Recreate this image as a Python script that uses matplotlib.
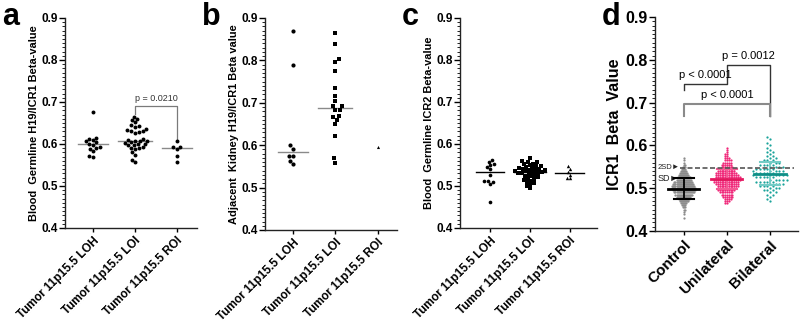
import numpy as np
import matplotlib
matplotlib.use("Agg")
import matplotlib.pyplot as plt
from matplotlib.ticker import MultipleLocator

plt.rcParams['font.family'] = ['Liberation Sans', 'DejaVu Sans']

# ---------------- data ----------------
cats_abc = ["Tumor 11p15.5 LOH", "Tumor 11p15.5 LOI", "Tumor 11p15.5 ROI"]

a_loh = [0.676, 0.615, 0.613, 0.610, 0.606, 0.604, 0.600, 0.598, 0.592, 0.590, 0.589, 0.583, 0.572, 0.569]
a_loi = [0.665, 0.660, 0.657, 0.652, 0.645, 0.643, 0.641, 0.635, 0.633, 0.632, 0.630, 0.628, 0.627,
         0.612, 0.610, 0.608, 0.607, 0.606, 0.605, 0.603, 0.600, 0.599, 0.598, 0.597, 0.592, 0.591,
         0.590, 0.589, 0.582, 0.575, 0.562, 0.557]
a_roi = [0.606, 0.594, 0.592, 0.588, 0.571, 0.557]
a_medians = [0.599, 0.607, 0.590]

b_loh = [0.870, 0.788, 0.600, 0.592, 0.575, 0.575, 0.563, 0.555]
b_loi = [0.864, 0.839, 0.804, 0.797, 0.776, 0.734, 0.717, 0.705, 0.692, 0.692, 0.683, 0.683,
         0.669, 0.666, 0.660, 0.650, 0.621, 0.569, 0.559]
b_roi = [0.596]
b_medians = [0.585, 0.687, None]

c_loh = [0.562, 0.558, 0.553, 0.550, 0.546, 0.541, 0.527, 0.512, 0.511, 0.509, 0.504, 0.463]
c_loi = [0.566, 0.560, 0.558, 0.556, 0.553, 0.552, 0.550, 0.548, 0.547, 0.545, 0.544, 0.542, 0.541,
         0.540, 0.539, 0.538, 0.537, 0.536, 0.535, 0.534, 0.533, 0.532, 0.531, 0.530, 0.529, 0.527,
         0.525, 0.523, 0.521, 0.519, 0.517, 0.515, 0.513, 0.510, 0.507, 0.504, 0.500, 0.495]
c_roi = [0.548, 0.541, 0.534, 0.527, 0.520, 0.518]
c_medians = [0.534, 0.534, 0.530]

cats_d = ["Control", "Unilateral", "Bilateral"]
ctrl_bins = [0.430, 0.435, 0.440, 0.445, 0.450, 0.455, 0.460, 0.465, 0.470, 0.475, 0.480, 0.485,
             0.490, 0.495, 0.500, 0.505, 0.510, 0.515, 0.520, 0.525, 0.530, 0.535, 0.540, 0.545,
             0.550, 0.555, 0.560, 0.565, 0.570]
ctrl_counts = [1, 0, 1, 1, 2, 3, 4, 6, 9, 11, 14, 17, 20, 22, 23, 22, 20, 18, 15, 13, 10, 8, 6, 4,
               3, 2, 1, 1, 1]
uni_bins = [0.465, 0.470, 0.475, 0.480, 0.485, 0.490, 0.495, 0.500, 0.505, 0.510, 0.515, 0.520,
            0.525, 0.530, 0.535, 0.540, 0.545, 0.550, 0.555, 0.560, 0.565, 0.570, 0.575, 0.580,
            0.585, 0.590, 0.595]
uni_counts = [2, 3, 4, 6, 7, 8, 10, 11, 12, 13, 14, 15, 14, 13, 12, 10, 9, 7, 6, 5, 4, 3, 2, 2, 1, 1, 1]
bil_bins = [0.470, 0.475, 0.480, 0.485, 0.490, 0.495, 0.500, 0.505, 0.510, 0.515, 0.520, 0.525,
            0.530, 0.535, 0.540, 0.545, 0.550, 0.555, 0.560, 0.565, 0.570, 0.575, 0.580, 0.585,
            0.590, 0.595, 0.600, 0.605, 0.610, 0.615, 0.620]
bil_counts = [1, 1, 1, 2, 2, 3, 3, 4, 4, 5, 5, 5, 6, 5, 5, 5, 4, 4, 3, 3, 2, 2, 1, 2, 1, 1, 1, 1, 0, 1, 1]
d_means = [0.499, 0.521, 0.534]
d_sds = [0.025, 0.024, 0.027]
two_sd = 0.548

# ---------------- helpers ----------------
W, H = 800, 324
fig = plt.figure(figsize=(W / 100, H / 100), dpi=100)


def swarm(vals, d_px, ypx):
    ys = np.asarray(vals, float) * ypx
    order = np.argsort(ys, kind="stable")
    placed = []
    offs = np.zeros(len(ys))
    for k, i in enumerate(order):
        y = ys[i]
        neigh = [(xj, yj) for xj, yj in placed if abs(yj - y) < d_px]
        cands = [0.0]
        for xj, yj in neigh:
            dx = np.sqrt(max(d_px ** 2 - (y - yj) ** 2, 0))
            cands += [xj + dx, xj - dx]
        sign = 1 if k % 2 == 0 else -1
        cands.sort(key=lambda c: (round(abs(c), 6), -sign * c))
        chosen = 0.0
        for c in cands:
            if all((c - xj) ** 2 + (y - yj) ** 2 >= d_px ** 2 - 1e-6 for xj, yj in neigh):
                chosen = c
                break
        placed.append((chosen, y))
        offs[i] = chosen
    return offs


def make_axes(rect_px, xlim, labelsize, ticksize):
    l, t, r, b = rect_px
    ax = fig.add_axes([l / W, 1 - b / H, (r - l) / W, (b - t) / H])
    ax.set_xlim(*xlim)
    ax.set_ylim(0.4, 0.9)
    for s in ["top", "right"]:
        ax.spines[s].set_visible(False)
    for s in ["left", "bottom"]:
        ax.spines[s].set_color("#222222")
        ax.spines[s].set_linewidth(1.0)
    ax.yaxis.set_major_locator(MultipleLocator(0.1))
    ax.yaxis.set_minor_locator(MultipleLocator(0.01))
    ax.tick_params(axis="y", which="major", length=4, width=1, labelsize=ticksize, pad=1)
    ax.tick_params(axis="y", which="minor", length=2, width=0.6)
    ax.tick_params(axis="x", length=3, width=1, labelsize=labelsize, pad=2)
    ax.set_yticks([0.4, 0.5, 0.6, 0.7, 0.8, 0.9])
    ax.set_yticklabels(["0.4", "0.5", "0.6", "0.7", "0.8", "0.9"], fontweight="bold")
    px_per_x = (r - l) / (xlim[1] - xlim[0])
    px_per_y = (b - t) / 0.5
    return ax, px_per_x, px_per_y


def panel_abc(rect_px, xlim, groups, markers, msizes, dpx, medians, med_color, ylabel, letter, letter_x):
    ax, ppx, ppy = make_axes(rect_px, xlim, 8.5, 8.5)
    for i, (vals, m, ms, d) in enumerate(zip(groups, markers, msizes, dpx)):
        offs = swarm(vals, d, ppy) / ppx
        ax.scatter(i + offs, vals, marker=m, s=ms, color="black", linewidths=0, zorder=3)
    for i, med in enumerate(medians):
        if med is None:
            continue
        half = 0.36 if i != 1 else 0.4
        ax.plot([i - half, i + half], [med, med], color=med_color, lw=1.0, zorder=2)
    ax.set_xticks(range(3))
    ax.set_xticklabels(cats_abc, rotation=45, ha="right", rotation_mode="anchor", fontweight="bold")
    ax.set_ylabel(ylabel, fontsize=7.9, fontweight="bold", labelpad=2)
    fig.text(letter_x / W, 1 - 2 / H, letter, fontsize=22, fontweight="bold", va="top", ha="left")
    return ax


# ---------------- panel a ----------------
ax_a = panel_abc((65, 18, 197, 228), (-0.67, 2.48), [a_loh, a_loi, a_roi], ["o", "o", "o"],
                 [8, 8, 8], [4.0, 4.0, 4.0], a_medians, "#8a8a8a",
                 "Blood  Germline H19/ICR1 Beta-value", "a", 2)
ax_a.plot([1, 1, 2, 2], [0.672, 0.690, 0.690, 0.612], color="#7a7a7a", lw=0.9)
ax_a.text(1.5, 0.697, "p = 0.0210", ha="center", va="bottom", fontsize=6.5, color="#333333")

# ---------------- panel b ----------------
ax_b = panel_abc((265, 18, 397, 230), (-0.66, 2.45), [b_loh, b_loi, b_roi], ["o", "s", "^"],
                 [9, 10, 5], [4.5, 4.5, 4.0], b_medians, "#8a8a8a",
                 "Adjacent  Kidney H19/ICR1 Beta value", "b", 202)

# ---------------- panel c ----------------
ax_c = panel_abc((460, 18, 597, 228), (-0.75, 2.68), [c_loh, c_loi, c_roi], ["o", "s", "^"],
                 [7, 9, 6], [3.6, 3.8, 3.4], c_medians, "black",
                 "Blood  Germline ICR2 Beta-value", "c", 402)

# ---------------- panel d ----------------
ax_d, ppx_d, ppy_d = make_axes((655, 17, 798, 231), (-0.67, 2.65), 11, 11.5)
d_groups = [(ctrl_bins, ctrl_counts), (uni_bins, uni_counts), (bil_bins, bil_counts)]
d_colors = ["#8c8c8c", "#f0287a", "#1aa39a"]
d_spacing = [1.05, 1.8, 3.6]
for i, ((bins, counts), col, sp) in enumerate(zip(d_groups, d_colors, d_spacing)):
    vals = np.repeat(bins, counts)
    offs = swarm(vals, sp, ppy_d) / ppx_d
    ax_d.scatter(i + offs, vals, s=2.6, color=col, linewidths=0, zorder=3)

# error bars
mean_cols = ["black", "#e3175f", "#0f8f87"]
sd_cols = ["black", "#f45a94", "#74ccc6"]
for i in range(3):
    m, s = d_means[i], d_sds[i]
    ax_d.plot([i, i], [m - s, m + s], color=sd_cols[i], lw=1.3, zorder=4)
    for yv in (m - s, m + s):
        ax_d.plot([i - 0.24, i + 0.24], [yv, yv], color=sd_cols[i], lw=1.5, zorder=4)
    ax_d.plot([i - 0.36, i + 0.36], [m, m], color=mean_cols[i], lw=2.0, zorder=5)

ax_d.plot([-0.1, 2.55], [two_sd, two_sd], color="#555555", lw=1.2, ls=(0, (3, 1.5)), zorder=6)
ax_d.text(-0.6, two_sd, "2SD\u25BA", fontsize=5.5, va="center", ha="left",
          family=["Liberation Sans", "DejaVu Sans"], color="#222222")
ax_d.text(-0.6, d_means[0] + d_sds[0], "SD\u25BA", fontsize=6.5, va="center", ha="left",
          family=["Liberation Sans", "DejaVu Sans"], color="#222222")

# brackets
ax_d.plot([0, 0, 1, 1], [0.730, 0.743, 0.743, 0.757], color="#333333", lw=1.0)
ax_d.text(0.5, 0.752, "p < 0.0001", ha="center", va="bottom", fontsize=8)
ax_d.plot([1, 1, 2, 2], [0.760, 0.788, 0.788, 0.668], color="#333333", lw=1.0)
ax_d.text(1.5, 0.797, "p = 0.0012", ha="center", va="bottom", fontsize=8)
ax_d.plot([0, 0, 2, 2], [0.668, 0.697, 0.697, 0.668], color="#8a8a8a", lw=1.5)
ax_d.text(1.0, 0.706, "p < 0.0001", ha="center", va="bottom", fontsize=8)

ax_d.set_xticks(range(3))
ax_d.set_xticklabels(cats_d, rotation=45, ha="right", rotation_mode="anchor", fontweight="bold")
ax_d.set_ylabel("ICR1  Beta  Value", fontsize=11.5, fontweight="bold", labelpad=3)
fig.text(602 / W, 1 - 2 / H, "d", fontsize=22, fontweight="bold", va="top", ha="left")

fig.savefig("out.png", dpi=100)
